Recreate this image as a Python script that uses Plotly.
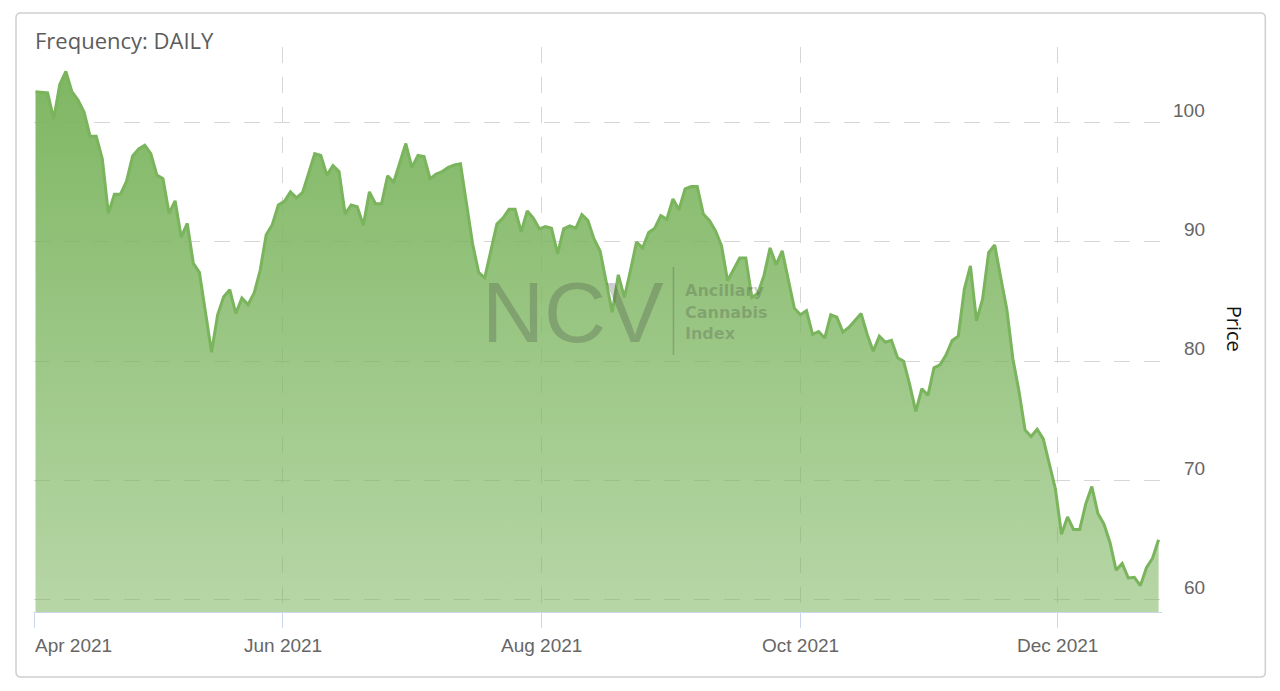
import pandas as pd
import plotly.graph_objects as go

# ---------------- data ----------------
HOLIDAYS = ["2021-04-02", "2021-05-31", "2021-07-05", "2021-09-06", "2021-11-25"]
trade_dates = [d.strftime("%Y-%m-%d 16:00") for d in pd.bdate_range("2021-04-01", "2021-12-23")
               if d.strftime("%Y-%m-%d") not in HOLIDAYS]

prices = [
    102.6, 102.55, 102.5, 100.3, 103.2, 104.3, 102.6, 101.9, 100.9, 98.85,
    98.85, 96.97, 92.4, 94.0, 94.0, 95.1, 97.2, 97.8, 98.1, 97.4,
    95.6, 95.3, 92.4, 93.45, 90.4, 91.55, 88.2, 87.45, 84.1, 80.75,
    83.9, 85.4, 86.0, 84.0, 85.3, 84.75, 85.7, 87.6, 90.6, 91.45,
    93.1, 93.4, 94.2, 93.7, 94.15, 95.75, 97.4, 97.25, 95.6, 96.4,
    95.9, 92.35, 93.1, 92.95, 91.4, 94.2, 93.2, 93.2, 95.55, 95.0,
    96.6, 98.25, 96.25, 97.25, 97.15, 95.3, 95.7, 95.9, 96.25, 96.45,
    96.55, 93.2, 89.85, 87.45, 87.0, 89.25, 91.5, 92.0, 92.75, 92.75,
    90.85, 92.6, 92.0, 91.1, 91.3, 91.15, 89.0, 91.1, 91.35, 91.15,
    92.3, 91.8, 90.25, 89.25, 86.75, 84.1, 87.25, 85.35, 87.6, 90.0,
    89.5, 90.8, 91.15, 92.2, 91.9, 93.6, 92.7, 94.45, 94.65, 94.65,
    92.35, 91.8, 90.95, 89.7, 86.75, 87.65, 88.65, 88.65, 85.35, 85.7,
    87.2, 89.5, 88.1, 89.25, 86.9, 84.45, 83.9, 84.25, 82.25, 82.5,
    81.95, 83.9, 83.7, 82.45, 82.85, 83.45, 84.0, 82.25, 80.85, 82.1,
    81.6, 81.75, 80.3, 80.0, 78.05, 75.8, 77.7, 77.15, 79.45, 79.7,
    80.55, 81.75, 82.1, 86.05, 88.0, 83.4, 85.2, 89.1, 89.75, 87.0,
    84.35, 80.2, 77.5, 74.25, 73.7, 74.3, 73.5, 71.4, 69.3, 65.5,
    66.95, 65.9, 65.9, 68.05, 69.5, 67.25, 66.35, 64.8, 62.5, 63.05,
    61.85, 61.9, 61.2, 62.7, 63.5, 65.05,
]

x_tick_vals = ["2021-04-01 10:05", "2021-06-01 09:00", "2021-08-02", "2021-09-30 17:00", "2021-12-01"]
x_tick_text = ["Apr 2021", "Jun 2021", "Aug 2021", "Oct 2021", "Dec 2021"]
y_tick_vals = [60, 70, 80, 90, 100]
y_tick_text = ["60", "70", "80", "90", "100"]

title_text = "Frequency: DAILY"
y_title = "Price"
watermark_big = "NCV"
watermark_lines = ["Ancillary", "Cannabis", "Index"]

# ---------------- layout geometry (pixels) ----------------
W, H = 1280, 691
L, R, T, B = 34, 1161.7, 47, 612


def px(x):
    return (x - L) / (R - L)


def py(y):
    return (B - y) / (B - T)


LINE_COLOR = "rgb(122,180,92)"
GRID_COLOR = "#d6d6d6"
LABEL_COLOR = "#666666"
WM_COLOR = "rgba(60,60,60,0.25)"
DASH = "16px,14px"

fig = go.Figure()
fig.add_trace(go.Scatter(
    x=trade_dates, y=prices, mode="lines",
    line=dict(color=LINE_COLOR, width=3),
    fill="tozeroy",
    fillgradient=dict(type="vertical",
                      colorscale=[[0, "rgba(124,181,95,0.55)"], [1, "rgba(124,181,95,0.98)"]],
                      start=59, stop=104.3),
    showlegend=False, name="Price",
))

annotations = []
# title
annotations.append(dict(text=title_text, xref="paper", yref="paper", x=px(33), y=py(39.5),
                        xanchor="left", yanchor="middle", showarrow=False,
                        font=dict(family="Open Sans", size=22, color="#5c5c5c")))
# y tick labels (right aligned, above gridlines)
for v, t in zip(y_tick_vals, y_tick_text):
    annotations.append(dict(text=t, xref="paper", yref="y", x=px(1207), y=v, yshift=12.5,
                            xanchor="right", yanchor="middle", showarrow=False,
                            font=dict(family="Liberation Sans, Arial", size=19, color=LABEL_COLOR)))
# x tick labels
for i, (v, t) in enumerate(zip(x_tick_vals, x_tick_text)):
    annotations.append(dict(text=t, xref="x", yref="paper", x=v, y=py(645),
                            xanchor="left" if i == 0 else "center", yanchor="middle",
                            xshift=-1 if i == 0 else 0, showarrow=False,
                            font=dict(family="Liberation Sans, Arial", size=19, color=LABEL_COLOR)))
# axis title
annotations.append(dict(text=y_title, xref="paper", yref="paper", x=px(1235), y=py(329),
                        textangle=90, xanchor="center", yanchor="middle", showarrow=False,
                        font=dict(family="Open Sans", size=20, color="#111111")))
# watermark
annotations.append(dict(text=watermark_big, xref="paper", yref="paper", x=px(572.5), y=py(311.5),
                        xanchor="center", yanchor="middle", showarrow=False,
                        font=dict(family="Liberation Sans, Arial", size=86, color=WM_COLOR)))
for t, yy in zip(watermark_lines, [290.8, 312.0, 333.3]):
    annotations.append(dict(text=t, xref="paper", yref="paper", x=px(683), y=py(yy),
                            xanchor="left", yanchor="middle", showarrow=False,
                            font=dict(family="DejaVu Sans", size=16, weight="bold", color=WM_COLOR)))

# border (rounded rectangle)
x1, x2, y1, y2 = px(16), px(1265), py(13), py(677)
rx, ry = 5 / (R - L), 5 / (B - T)
border_path = (f"M {x1+rx},{y1} L {x2-rx},{y1} Q {x2},{y1} {x2},{y1-ry} "
               f"L {x2},{y2+ry} Q {x2},{y2} {x2-rx},{y2} L {x1+rx},{y2} "
               f"Q {x1},{y2} {x1},{y2+ry} L {x1},{y1-ry} Q {x1},{y1} {x1+rx},{y1} Z")
shapes = [
    dict(type="path", xref="paper", yref="paper", path=border_path,
         line=dict(color="#cfcfcf", width=1.5), layer="below"),
    dict(type="line", xref="paper", yref="paper", x0=px(673.3), x1=px(673.3),
         y0=py(267), y1=py(355), line=dict(color=WM_COLOR, width=1.5)),
]

fig.update_layout(
    width=W, height=H, autosize=False,
    margin=dict(l=L, r=W - R, t=T, b=H - B, pad=0),
    paper_bgcolor="white", plot_bgcolor="white",
    showlegend=False,
    annotations=annotations, shapes=shapes,
    xaxis=dict(
        type="date",
        range=["2021-04-01 10:05", "2021-12-24 05:24"],
        rangebreaks=[dict(bounds=["sat", "mon"]), dict(values=HOLIDAYS)],
        tickmode="array", tickvals=x_tick_vals, ticktext=x_tick_text,
        showticklabels=False,
        showgrid=True, gridcolor=GRID_COLOR, griddash=DASH, gridwidth=1,
        showline=True, linecolor="#ccd6eb", linewidth=1,
        ticks="outside", ticklen=15, tickcolor="#ccd6eb", tickwidth=1,
        zeroline=False, fixedrange=True,
    ),
    yaxis=dict(
        side="right",
        range=[58.99, 106.34],
        tickmode="array", tickvals=y_tick_vals, ticktext=y_tick_text,
        showticklabels=False,
        showgrid=True, gridcolor=GRID_COLOR, griddash=DASH, gridwidth=1,
        showline=False, ticks="", zeroline=False, fixedrange=True,
    ),
)

fig.write_html("out.html", config={"displayModeBar": False},
               post_script="document.body.style.margin='0';")
